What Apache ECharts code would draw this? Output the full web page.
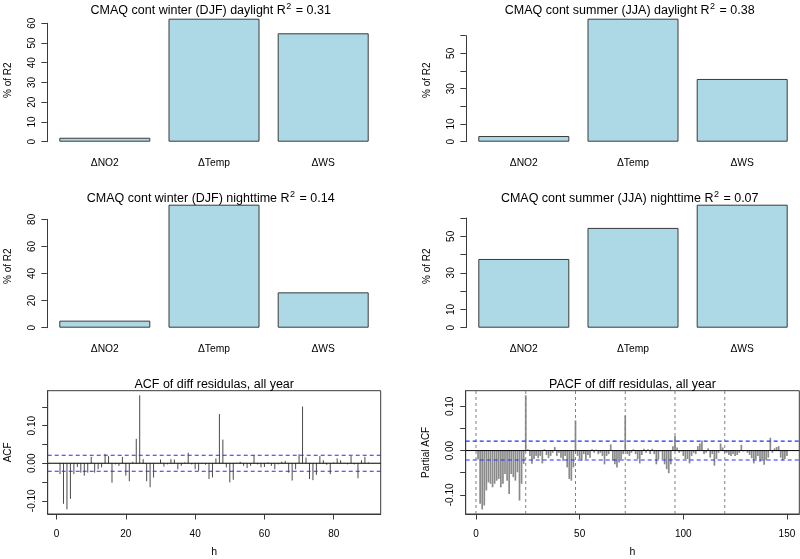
<!DOCTYPE html>
<html><head><meta charset="utf-8">
<script src="https://cdn.jsdelivr.net/npm/echarts@6/dist/echarts.min.js"></script>
<style>html,body{margin:0;padding:0;background:#fff}#c{width:800px;height:559px}</style>
</head><body><div id="c"></div>
<script>
// ---------- data ----------
const categories = ['\u0394NO2', '\u0394Temp', '\u0394WS'];
const winterDay = [2.0, 62.3, 54.9];
const summerDay = [3.2, 69.6, 35.5];
const winterNight = [5.2, 90.8, 26.1];
const summerNight = [37.6, 54.6, 67.3];

const winterDayTicks = [0, 10, 20, 30, 40, 50, 60];
const winterDayLabels = [0, 10, 20, 30, 40, 50, 60];
const summerDayTicks = [0, 10, 20, 30, 40, 50, 60];
const summerDayLabels = [0, 10, 30, 50];
const winterNightTicks = [0, 20, 40, 60, 80];
const winterNightLabels = [0, 20, 40, 60, 80];
const summerNightTicks = [0, 10, 20, 30, 40, 50, 60];
const summerNightLabels = [0, 10, 30, 50];

const r2Values = ['0.31', '0.38', '0.14', '0.07'];
const panelTitles = ['CMAQ cont winter (DJF) daylight', 'CMAQ cont summer (JJA) daylight',
                     'CMAQ cont winter (DJF) nighttime', 'CMAQ cont summer (JJA) nighttime'];

// ACF of differenced residuals, lags 1..90
const acfValues = [
 -0.029,-0.108,-0.123,-0.095,-0.029,-0.010,-0.025,-0.033,-0.025, 0.017,
 -0.025,-0.016,-0.011, 0.025, 0.019,-0.052,-0.003,-0.007, 0.017,-0.033,
 -0.048, 0.004, 0.065, 0.181, 0.011,-0.048,-0.064,-0.038,-0.001, 0.010,
 -0.009,-0.003, 0.011, 0.010,-0.016,-0.007, 0.002, 0.028,-0.003,-0.016,
 -0.020, 0.001,-0.004,-0.042,-0.038, 0.013, 0.131, 0.063,-0.011,-0.051,
 -0.044, 0.001, 0.004,-0.007,-0.013,-0.007, 0.022,-0.003,-0.011,-0.010,
  0.002,-0.007,-0.016,-0.003, 0.004, 0.006,-0.025,-0.046,-0.016, 0.024,
  0.151, 0.015,-0.042,-0.045,-0.031, 0.019, 0.008,-0.004,-0.029, 0.002,
  0.013, 0.008, 0.001,-0.003, 0.019,-0.003,-0.040, 0.008, 0.017, 0.002
];
// PACF of differenced residuals, lags 1..150
const pacfValues = [
 -0.020,-0.120,-0.133,-0.124,-0.090,-0.072,-0.075,-0.083,-0.075,-0.068,
 -0.064,-0.083,-0.075,-0.053,-0.068,-0.098,-0.053,-0.060,-0.068,-0.049,
 -0.113,-0.075,-0.030, 0.125, 0.003,-0.012,-0.030,-0.019,-0.012,-0.017,
 -0.012,-0.029, 0.003,-0.010,-0.017,-0.012,-0.005, 0.008,-0.012,-0.005,
 -0.016,-0.023,-0.012,-0.038,-0.064,-0.068,-0.038, 0.068,-0.012,-0.019,
 -0.023,-0.008,-0.019,-0.010,-0.016, 0.003,-0.005, 0.002,-0.008,-0.005,
 -0.012,-0.031,-0.012,-0.008, 0.014,-0.023,-0.031,-0.038,-0.027,-0.019,
 -0.008, 0.079,-0.008,-0.012,-0.005, 0.003,-0.008,-0.019,-0.029,-0.010,
  0.004,-0.005, 0.003,-0.008, 0.004,-0.008,-0.031,-0.019,-0.002,-0.019,
 -0.031,-0.042,-0.051,-0.031, 0.010, 0.033, 0.007,-0.005,-0.002,-0.012,
 -0.019,-0.019,-0.029,-0.012,-0.005,-0.008, 0.010, 0.016, 0.023,-0.008,
 -0.005, 0.005,-0.016,-0.008,-0.034,-0.019,-0.005, 0.016, 0.007,-0.005,
 -0.005,-0.010,-0.012,-0.008,-0.012,-0.010,-0.005, 0.013,-0.002, 0.001,
 -0.005,-0.010,-0.017,-0.029,-0.019,-0.012,-0.025,-0.019,-0.032,-0.022,
 -0.016, 0.029,-0.005, 0.005, 0.008, 0.010,-0.016,-0.022,-0.019,-0.012
];
const acfTicksX = [0, 20, 40, 60, 80];
const pacfTicksX = [0, 50, 100, 150];
const acfTicksY = [-0.10, -0.05, 0, 0.05, 0.10, 0.15];
const pacfTicksY = [-0.10, -0.05, 0, 0.05, 0.10];
const corrLabelsY = [-0.10, 0, 0.10];
const seasonalLags = [0, 24, 48, 72, 96, 120];
const confBound = 0.0213;

// ---------- build ----------
const FONT = '"Liberation Sans", Arial, sans-serif';
const grid = [], xAxis = [], yAxis = [], series = [], title = [];
const TXT = {color: '#000', fontFamily: FONT, fontSize: 10};

const barPanels = [
  {data: winterDay, ticks: winterDayTicks, labels: winterDayLabels, left: 50.2, top: 18.7},
  {data: summerDay, ticks: summerDayTicks, labels: summerDayLabels, left: 469.2, top: 18.7},
  {data: winterNight, ticks: winterNightTicks, labels: winterNightLabels, left: 50.2, top: 204.7},
  {data: summerNight, ticks: summerNightTicks, labels: summerNightLabels, left: 469.2, top: 204.7}
];
const BW = 327.6, BH = 123, AX_OFF = 3.3;

barPanels.forEach((p, i) => {
  const maxV = Math.max(...p.data);
  const lastTick = p.ticks[p.ticks.length - 1];
  const step = p.ticks[1] - p.ticks[0];
  const g = grid.length;
  grid.push({left: p.left, top: p.top, width: BW, height: BH});
  xAxis.push({gridIndex: g, type: 'category', data: categories,
    axisLine: {show: false}, axisTick: {show: false},
    axisLabel: Object.assign({margin: 16.5}, TXT, {fontSize: 10.3})});
  yAxis.push({gridIndex: g, type: 'value', min: 0, max: maxV, offset: AX_OFF,
    axisLine: {show: false}, axisTick: {show: false}, axisLabel: {show: false}, splitLine: {show: false},
    name: '% of R2', nameLocation: 'middle', nameGap: 34, nameTextStyle: TXT});
  series.push({type: 'bar', xAxisIndex: g, yAxisIndex: g, data: p.data, barWidth: 91,
    itemStyle: {color: '#ADD8E6', borderColor: '#3a3a3a', borderWidth: 1}, silent: true, animation: false});
  const g2 = grid.length;
  const axH = BH * lastTick / maxV;
  grid.push({left: p.left - AX_OFF, top: p.top + BH - axH, width: BW, height: axH});
  xAxis.push({gridIndex: g2, type: 'value', show: false, min: 0, max: 1});
  yAxis.push({gridIndex: g2, type: 'value', min: 0, max: lastTick, interval: step,
    axisLine: {show: true, onZero: false, lineStyle: {color: '#3a3a3a', width: 1}},
    axisTick: {show: true, length: 5.5, lineStyle: {color: '#3a3a3a'}},
    splitLine: {show: false},
    axisLabel: Object.assign({rotate: 90, margin: 10, formatter: v => p.labels.includes(v) ? String(v) : ''}, TXT)});
  const cx = p.left - AX_OFF + BW / 2;
  title.push({left: cx, top: p.top < 100 ? 2.5 : 190.5, textAlign: 'center', padding: 0,
    text: '{t|' + panelTitles[i] + ' R}{s|2}{t| = ' + r2Values[i] + '}',
    textStyle: {fontWeight: 'normal', rich: {
      t: {fontSize: 12.5, fontFamily: FONT, color: '#000', fontWeight: 'normal', lineHeight: 16},
      s: {fontSize: 9, fontFamily: FONT, color: '#000', fontWeight: 'normal', verticalAlign: 'top', lineHeight: 9, padding: [0, 1, 0, 0.5]}
    }}});
});

function rlim(arr) {
  const mn = Math.min(...arr), mx = Math.max(...arr);
  const e = 0.04 * (mx - mn);
  return [mn - e, mx + e];
}

function corrPanel(values, ticksX, ticksY, yname, ttl, left, width, color, lw, withSeasonal) {
  const lags = values.map((v, i) => i + 1);
  const [xmin, xmax] = rlim(lags);
  const [ymin, ymax] = rlim(values.concat([confBound, -confBound]));
  const g = grid.length;
  grid.push({left: left, top: 390.7, width: width, height: 124.6, show: true,
    borderColor: '#3a3a3a', borderWidth: 1, backgroundColor: 'transparent'});
  xAxis.push({gridIndex: g, type: 'value', min: xmin, max: xmax,
    axisLine: {show: true, onZero: false, lineStyle: {color: '#3a3a3a'}},
    axisTick: {show: true, length: 5.5, customValues: ticksX, lineStyle: {color: '#3a3a3a'}},
    axisLabel: Object.assign({customValues: ticksX, margin: 15.5}, TXT),
    splitLine: {show: false},
    name: 'h', nameLocation: 'middle', nameGap: 33, nameTextStyle: Object.assign({}, TXT, {fontSize: 10.5})});
  yAxis.push({gridIndex: g, type: 'value', min: ymin, max: ymax,
    axisLine: {show: true, onZero: false, lineStyle: {color: '#3a3a3a'}},
    axisTick: {show: true, length: 5.5, customValues: ticksY, lineStyle: {color: '#3a3a3a'}},
    axisLabel: Object.assign({customValues: corrLabelsY, rotate: 90, margin: 10,
      formatter: v => v.toFixed(2)}, TXT),
    splitLine: {show: false},
    name: yname, nameLocation: 'middle', nameGap: 34, nameTextStyle: TXT});
  if (withSeasonal) {
    seasonalLags.forEach(k => series.push({type: 'line', xAxisIndex: g, yAxisIndex: g,
      data: [[k, ymin], [k, ymax]], showSymbol: false, silent: true, animation: false,
      lineStyle: {color: '#808080', width: 1, type: [3, 3]}}));
  }
  series.push({type: 'custom', xAxisIndex: g, yAxisIndex: g, silent: true, animation: false,
    data: values.map((v, i) => [lags[i], v]),
    renderItem: (params, api) => {
      const p0 = api.coord([api.value(0), 0]);
      const p1 = api.coord([api.value(0), api.value(1)]);
      return {type: 'line', shape: {x1: p0[0], y1: p0[1], x2: p1[0], y2: p1[1]},
        style: {stroke: color, lineWidth: lw}};
    }});
  series.push({type: 'line', xAxisIndex: g, yAxisIndex: g, data: [[xmin, 0], [xmax, 0]],
    showSymbol: false, silent: true, animation: false, lineStyle: {color: '#000', width: 1}});
  [confBound, -confBound].forEach(c => series.push({type: 'line', xAxisIndex: g, yAxisIndex: g,
    data: [[xmin, c], [xmax, c]], showSymbol: false, silent: true, animation: false,
    lineStyle: {color: '#2a2aff', width: 1.2, type: [4, 3]}}));
  title.push({left: left + width / 2, top: 377, textAlign: 'center', text: ttl, padding: 0,
    textStyle: {fontSize: 12.5, fontFamily: FONT, color: '#000', fontWeight: 'normal', lineHeight: 16}});
}

corrPanel(acfValues, acfTicksX, acfTicksY, 'ACF', 'ACF of diff residulas, all year', 47.7, 333, '#4a4a4a', 1, false);
corrPanel(pacfValues, pacfTicksX, pacfTicksY, 'Partial ACF', 'PACF of diff residulas, all year', 465.7, 333.6, '#8a8a8a', 1.7, true);

const chart = echarts.init(document.getElementById('c'), null, {renderer: 'canvas'});
chart.setOption({animation: false, backgroundColor: '#fff', title, grid, xAxis, yAxis, series});
</script></body></html>
